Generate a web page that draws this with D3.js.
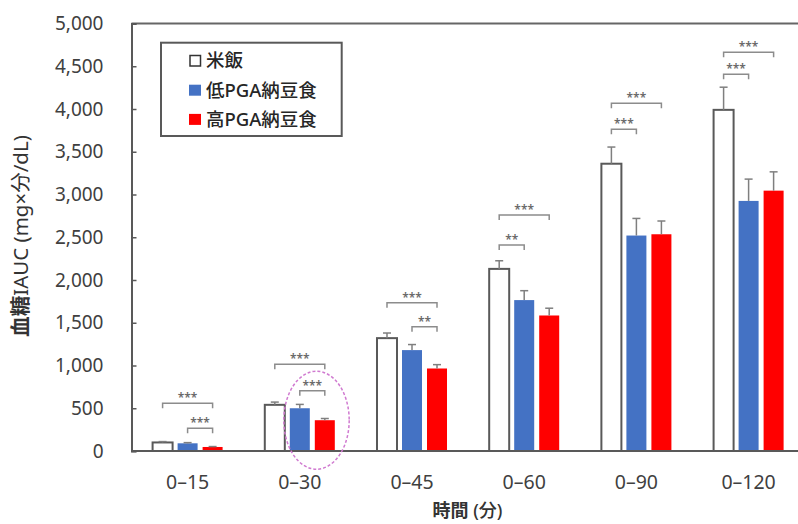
<!DOCTYPE html>
<html><head><meta charset="utf-8">
<script src="https://cdn.jsdelivr.net/npm/d3@7"></script>
<style>body{margin:0;background:#fff} svg{display:block}</style>
</head><body><svg id="c" width="798" height="524"></svg>
<script>
const categories = ["0–15","0–30","0–45","0–60","0–90","0–120"];
const seriesNames = ["米飯","低PGA納豆食","高PGA納豆食"];
const rice    = [100, 540, 1320, 2130, 3360, 3990];
const lowPGA  = [90, 500, 1180, 1765, 2520, 2925];
const highPGA = [47, 360, 965, 1585, 2535, 3045];
const riceErr = [10, 32, 60, 95, 195, 265];
const lowErr  = [8, 45, 65, 110, 200, 255];
const highErr = [5, 20, 45, 85, 155, 220];
const yTicks = [0,500,1000,1500,2000,2500,3000,3500,4000,4500,5000];
const bracketCat   = [0,0,1,1,2,2,3,3,4,4,5,5];
const bracketFrom  = [0,1,0,1,0,1,0,0,0,0,0,0];
const bracketTo    = [2,2,2,2,2,2,2,1,2,1,2,1];
const bracketValue = [558,265,1014,705,1735,1454,2760,2409,4067,3763,4663,4406];
const bracketLabel = ["***","***","***","***","***","**","***","**","***","***","***","***"];
const xTitleParts = ["時間", " (分)"];
const yTitleParts = ["血糖", "IAUC (mg×分/dL)"];

(function(){
const colors = ["#ffffff","#4472C4","#FF0000"];
const FONT = "'Noto Sans','Noto Sans CJK JP',sans-serif";
const values = [rice, lowPGA, highPGA];
const errs = [riceErr, lowErr, highErr];

const svg = d3.select("#c");
const pL = 131.5, pT = 23.5, pB = 451, step = 112.2;
const x0 = d3.scaleBand().domain(categories).range([pL, pL + step*categories.length]).paddingInner(0.376).paddingOuter(0.188);
const x1 = d3.scaleBand().domain(seriesNames).range([0, x0.bandwidth()]).paddingInner(0.2);
const y = d3.scaleLinear().domain([0,5000]).range([pB, pT]);

svg.append("line").attr("x1",pL).attr("x2",820).attr("y1",pT).attr("y2",pT)
  .attr("stroke","#666").attr("stroke-width",2);

const ya = svg.append("g").attr("transform",`translate(${pL},0)`)
  .call(d3.axisLeft(y).tickValues(yTicks).tickSize(-5).tickPadding(28).tickFormat(d3.format(",")));
ya.select(".domain").attr("stroke","#595959").attr("stroke-width",2);
ya.selectAll(".tick line").attr("stroke","#595959").attr("stroke-width",1.5);
ya.selectAll(".tick text").attr("font-family",FONT).attr("font-size",19).attr("fill","#404040");

const groups = svg.append("g").selectAll("g").data(categories).join("g")
  .attr("transform",d=>`translate(${x0(d)},0)`);
seriesNames.forEach((s,si)=>{
  groups.append("rect")
    .attr("x",x1(s)).attr("width",x1.bandwidth())
    .attr("y",(d,i)=>y(values[si][i])).attr("height",(d,i)=>pB - y(values[si][i]))
    .attr("fill",colors[si])
    .attr("stroke",si===0?"#595959":"none").attr("stroke-width",si===0?2:0);
  groups.append("line")
    .attr("x1",x1(s)+x1.bandwidth()/2).attr("x2",x1(s)+x1.bandwidth()/2)
    .attr("y1",(d,i)=>y(values[si][i])).attr("y2",(d,i)=>y(values[si][i]+errs[si][i]))
    .attr("stroke","#7f7f7f").attr("stroke-width",1.5);
  groups.append("line")
    .attr("x1",x1(s)+x1.bandwidth()/2-4).attr("x2",x1(s)+x1.bandwidth()/2+4)
    .attr("y1",(d,i)=>y(values[si][i]+errs[si][i])).attr("y2",(d,i)=>y(values[si][i]+errs[si][i]))
    .attr("stroke","#7f7f7f").attr("stroke-width",1.5);
});

const xa = svg.append("g").attr("transform",`translate(0,${pB})`)
  .call(d3.axisBottom(x0).tickSize(0).tickPadding(24));
xa.select(".domain").attr("d",`M${pL},0H820`).attr("stroke","#595959").attr("stroke-width",2);
xa.selectAll(".tick text").attr("font-family",FONT).attr("font-size",19.5).attr("fill","#404040");

const bg = svg.append("g");
bracketCat.forEach((c,k)=>{
  const cat = categories[c];
  const xa_ = x0(cat) + x1(seriesNames[bracketFrom[k]]) + x1.bandwidth()/2;
  const xb_ = x0(cat) + x1(seriesNames[bracketTo[k]]) + x1.bandwidth()/2;
  const yy = y(bracketValue[k]);
  bg.append("path").attr("d",`M${xa_},${yy+5}V${yy}H${xb_}V${yy+5}`)
    .attr("fill","none").attr("stroke","#8c8c8c").attr("stroke-width",1.5);
  bg.append("text").attr("x",(xa_+xb_)/2).attr("y",yy-1).attr("text-anchor","middle")
    .attr("font-family",FONT).attr("font-size",12).attr("font-weight",600).attr("fill","#6a6a6a").text(bracketLabel[k]);
});

const ecat = categories[1];
svg.append("ellipse")
  .attr("cx", x0(ecat) + x1(seriesNames[2]) + 1.7)
  .attr("cy", y(highPGA[1]))
  .attr("rx", 32.7).attr("ry", 49)
  .attr("fill","none").attr("stroke","#d07ad0").attr("stroke-width",1.5).attr("stroke-dasharray","3,2");

const lg = svg.append("g");
lg.append("rect").attr("x",161).attr("y",42.7).attr("width",180.7).attr("height",93.3)
  .attr("fill","#fff").attr("stroke","#595959").attr("stroke-width",2);
seriesNames.forEach((s,i)=>{
  const cy = 61 + i*29.2;
  lg.append("rect").attr("x",i===0?190:189).attr("y",cy-5.5).attr("width",i===0?10.5:12).attr("height",i===0?10.5:11)
    .attr("fill",colors[i]).attr("stroke",i===0?"#333":"none").attr("stroke-width",1.5);
  lg.append("text").attr("x",206).attr("y",cy).attr("dy","0.35em")
    .attr("font-family",FONT).attr("font-size",18.5).attr("font-weight",500).attr("fill","#262626").text(s);
});

const xt = svg.append("text").attr("x",467.5).attr("y",511).attr("dy","0.35em").attr("text-anchor","middle")
  .attr("font-family",FONT).attr("font-size",18).attr("fill","#333");
xt.append("tspan").attr("font-weight",700).text(xTitleParts[0]);
xt.append("tspan").attr("font-weight",500).text(xTitleParts[1]);
const yt = svg.append("text").attr("transform","translate(21,236) rotate(-90)").attr("dy","0.35em").attr("text-anchor","middle")
  .attr("font-family",FONT).attr("font-size",20.5).attr("fill","#333");
yt.append("tspan").attr("font-weight",700).text(yTitleParts[0]);
yt.append("tspan").attr("font-weight",400).text(yTitleParts[1]);
})();
</script></body></html>
